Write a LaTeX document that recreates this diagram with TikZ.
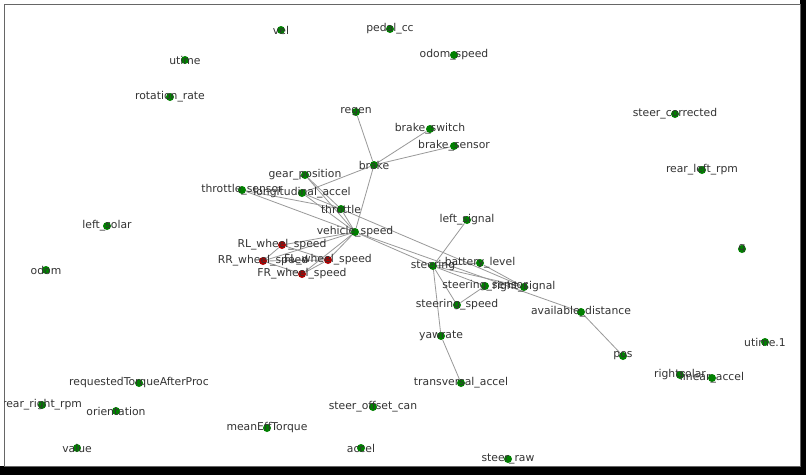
\documentclass[tikz,border=0pt]{standalone}
\usepackage{fontspec}
\setmainfont{DejaVu Sans}
\begin{document}
\begin{tikzpicture}[x=1pt,y=-1pt,
  g/.style={circle,fill=green!50!black,inner sep=0pt,minimum size=8pt},
  r/.style={circle,fill=red!70!black,inner sep=0pt,minimum size=8pt},
  lab/.style={font=\fontsize{10.8}{11}\selectfont,text=black!80},
  ed/.style={draw=black!40,line width=0.8pt}]
\fill[black] (0,0) rectangle (806,475);
\fill[white] (0,0) rectangle (800,466);
\draw[black!60] (4,4) rectangle (800,466);
\begin{scope}
\clip (4,4) rectangle (800,466);
\foreach \n/\x/\y/\t/\s in {
vel/281/30/vel/g, pedal/390/29/pedal\_cc/g, utime/185/60/utime/g, odomspeed/454/55/odom\_speed/g,
rot/170/97/rotation\_rate/g, regen/356/112/regen/g, bsw/430/129/brake\_switch/g,
stc/675/114/steer\_corrected/g, bse/454/146/brake\_sensor/g, brake/374/165/brake/g,
rlr/702/170/rear\_left\_rpm/g, gear/305/175/gear\_position/g, ths/242/190/throttle\_sensor/g,
lon/302/193/longitudinal\_accel/g, thr/341/209/throttle/g, ls/467/220/left\_signal/g,
lsol/107/226/left\_solar/g, vs/355/232/vehicle\_speed/g, rl/282/245/RL\_wheel\_speed/r,
q/742/249/q/g, rr/263/261/RR\_wheel\_speed/r, fl/328/260/FL\_wheel\_speed/r,
bat/480/263/battery\_level/g, st/433/266/steering/g, odom/46/270/odom/g,
fr/302/274/FR\_wheel\_speed/r, sts/485/286/steering\_sensor/g, rs/524/287/right\_signal/g,
ssp/457/305/steering\_speed/g, ad/581/312/available\_distance/g, yaw/441/336/yawrate/g,
ut1/765/342/utime.1/g, pos/623/356/pos/g, rsol/680/375/rightsolar/g, lin/712/378/linear\_accel/g,
req/139/383/requestedTorqueAfterProc/g, tra/461/383/transversal\_accel/g,
rrr/42/405/rear\_right\_rpm/g, ori/116/411/orientation/g, sof/373/407/steer\_offset\_can/g,
met/267/428/meanEffTorque/g, val/77/448/value/g, acc/361/448/accel/g, sraw/508/459/steer\_raw/g}
{ \node[\s] (\n) at (\x,\y) {}; }
\foreach \a/\b in {regen/brake, bsw/brake, bse/brake, brake/lon, brake/vs,
 ths/thr, ths/vs, gear/thr, gear/vs, lon/thr, lon/vs, thr/vs, thr/rs,
 vs/rl, vs/rr, vs/fl, vs/fr, rl/rr, rl/fl, rr/fr, fr/fl, rr/fl,
 vs/st, vs/ad, ls/st, st/bat, st/sts, st/rs, st/ssp, st/yaw, sts/ssp, bat/rs,
 ad/pos, yaw/tra}
{ \draw[ed] (\a) -- (\b); }
\foreach \n/\x/\y/\t/\s in {
vel/281/30/vel/g, pedal/390/29/pedal\_cc/g, utime/185/60/utime/g, odomspeed/454/55/odom\_speed/g,
rot/170/97/rotation\_rate/g, regen/356/112/regen/g, bsw/430/129/brake\_switch/g,
stc/675/114/steer\_corrected/g, bse/454/146/brake\_sensor/g, brake/374/165/brake/g,
rlr/702/170/rear\_left\_rpm/g, gear/305/175/gear\_position/g, ths/242/190/throttle\_sensor/g,
lon/302/193/longitudinal\_accel/g, thr/341/209/throttle/g, ls/467/220/left\_signal/g,
lsol/107/226/left\_solar/g, vs/355/232/vehicle\_speed/g, rl/282/245/RL\_wheel\_speed/r,
q/742/249/q/g, rr/263/261/RR\_wheel\_speed/r, fl/328/260/FL\_wheel\_speed/r,
bat/480/263/battery\_level/g, st/433/266/steering/g, odom/46/270/odom/g,
fr/302/274/FR\_wheel\_speed/r, sts/485/286/steering\_sensor/g, rs/524/287/right\_signal/g,
ssp/457/305/steering\_speed/g, ad/581/312/available\_distance/g, yaw/441/336/yawrate/g,
ut1/765/342/utime.1/g, pos/623/356/pos/g, rsol/680/375/rightsolar/g, lin/712/378/linear\_accel/g,
req/139/383/requestedTorqueAfterProc/g, tra/461/383/transversal\_accel/g,
rrr/42/405/rear\_right\_rpm/g, ori/116/411/orientation/g, sof/373/407/steer\_offset\_can/g,
met/267/428/meanEffTorque/g, val/77/448/value/g, acc/361/448/accel/g, sraw/508/459/steer\_raw/g}
{ \node[lab] (l\n) at (\n.center) {\t}; }
\end{scope}
\end{tikzpicture}
\end{document}
